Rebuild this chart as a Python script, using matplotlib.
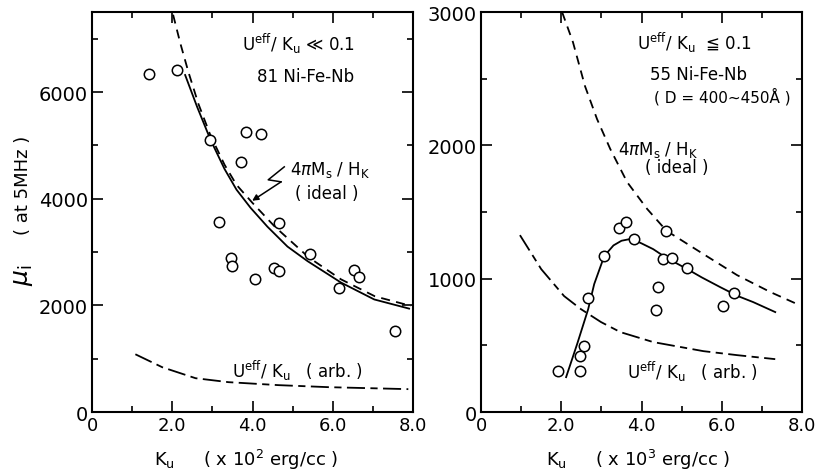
import numpy as np
import matplotlib
matplotlib.use("Agg")
import matplotlib.pyplot as plt
from matplotlib.ticker import MultipleLocator, FixedLocator

plt.rcParams["font.family"] = ["DejaVu Sans"]
plt.rcParams["mathtext.fontset"] = "dejavusans"

# ---- left panel: 81Ni-Fe-Nb (Ku in x10^2 erg/cc) ----
ku_81 = [1.43, 2.11, 2.94, 3.84, 4.2, 3.71, 3.16, 4.67, 3.47, 3.5, 4.05, 4.53, 4.65, 5.43, 6.53, 6.65, 6.15, 7.55]
mu_81 = [6340, 6420, 5110, 5250, 5215, 4680, 3570, 3550, 2897, 2747, 2495, 2710, 2650, 2972, 2660, 2540, 2318, 1514]

fit_ku_81 = [2.32, 2.62, 2.95, 3.3, 3.6, 3.95, 4.37, 4.87, 5.37, 6.2, 7.03, 7.9]
fit_mu_81 = [6320, 5720, 5110, 4560, 4170, 3830, 3476, 3103, 2830, 2430, 2112, 1940]

ideal_ku_81 = [2.02, 2.2, 2.4, 2.65, 2.95, 3.3, 3.6, 4.0, 4.55, 5.4, 6.2, 7.05, 7.95]
ideal_mu_81 = [7450, 6915, 6380, 5780, 5190, 4640, 4260, 3920, 3480, 2900, 2490, 2170, 1990]

arb_ku_81 = [1.08, 1.75, 2.58, 3.4, 4.65, 5.9, 7.88]
arb_mu_81 = [1084, 841, 635, 561, 505, 467, 430]

# ---- right panel: 55Ni-Fe-Nb (Ku in x10^3 erg/cc) ----
ku_55 = [1.92, 2.47, 2.47, 2.57, 2.67, 3.07, 3.45, 3.62, 3.82, 4.62, 4.54, 4.76, 5.14, 4.41, 4.36, 6.31, 6.03]
mu_55 = [307, 307, 420, 495, 855, 1170, 1380, 1425, 1300, 1360, 1145, 1155, 1080, 937, 768, 892, 795]

fit_ku_55 = [2.12, 2.4, 2.67, 2.82, 3.07, 3.3, 3.5, 3.75, 4.0, 4.29, 4.6, 5.14, 5.5, 5.96, 6.4, 6.78, 7.33]
fit_mu_55 = [262, 515, 772, 960, 1170, 1250, 1285, 1300, 1265, 1222, 1160, 1072, 1010, 937, 870, 825, 750]

ideal_ku_55 = [2.02, 2.29, 2.59, 2.89, 3.22, 3.64, 4.14, 4.62, 5.54, 6.38, 7.21, 7.95]
ideal_mu_55 = [3000, 2775, 2445, 2198, 1973, 1725, 1523, 1360, 1185, 1027, 900, 800]

arb_ku_55 = [0.97, 1.5, 2.07, 2.49, 2.99, 3.47, 4.29, 5.54, 6.38, 7.33]
arb_mu_55 = [1327, 1072, 870, 772, 675, 600, 525, 457, 427, 397]

# lightning-style pointer in left panel
zig_x = [4.79, 4.39, 4.71, 3.99]
zig_y = [4598, 4355, 4317, 3962]

fig = plt.figure(figsize=(8.15, 4.77), dpi=100)
ax1 = fig.add_axes([0.1129, 0.134, 0.394, 0.8386])
ax2 = fig.add_axes([0.5902, 0.134, 0.394, 0.8386])

lw = 1.3
dash_ideal = (5, 3.5)
dash_arb = (10, 3, 4, 3)

for ax in (ax1, ax2):
    for s in ax.spines.values():
        s.set_linewidth(1.5)
    ax.set_xlim(0, 8)
    ax.xaxis.set_major_locator(FixedLocator([0, 2, 4, 6, 8]))
    ax.xaxis.set_minor_locator(MultipleLocator(1))
    ax.set_xticklabels(["0", "2.0", "4.0", "6.0", "8.0"])
    ax.tick_params(which="both", direction="in", top=True, right=True, width=1.2, labelsize=14, pad=3)
    ax.tick_params(axis="x", labelsize=13)
    ax.tick_params(which="major", length=8)
    ax.tick_params(which="minor", length=4)

# left panel
ax1.set_ylim(0, 7500)
ax1.yaxis.set_major_locator(FixedLocator([0, 2000, 4000, 6000]))
ax1.yaxis.set_minor_locator(MultipleLocator(1000))
ax1.plot(fit_ku_81, fit_mu_81, color="k", lw=lw)
ax1.plot(ideal_ku_81, ideal_mu_81, color="k", lw=lw, dashes=dash_ideal)
ax1.plot(arb_ku_81, arb_mu_81, color="k", lw=lw, dashes=dash_arb)
ax1.plot(ku_81, mu_81, "o", ms=7.5, mfc="white", mec="k", mew=1.1, zorder=3)
ax1.plot(zig_x[:3], zig_y[:3], color="k", lw=1.1)
ax1.annotate("", xy=(zig_x[3], zig_y[3]), xytext=(zig_x[2], zig_y[2]),
             arrowprops=dict(arrowstyle="-|>", color="k", lw=1.1, mutation_scale=9,
                             shrinkA=0, shrinkB=0))

ax1.text(3.74, 6915, r"U$^{\rm eff}$/ K$_{\rm u}$ ≪ 0.1", fontsize=12, va="center")
ax1.text(4.11, 6300, "81 Ni-Fe-Nb", fontsize=12, va="center")
ax1.text(4.93, 4560, r"4$\pi$M$_{\rm s}$ / H$_{\rm K}$", fontsize=12, va="center")
ax1.text(5.06, 4112, "( ideal )", fontsize=12, va="center")
ax1.text(3.49, 785, r"U$^{\rm eff}$/ K$_{\rm u}$   ( arb. )", fontsize=12, va="center")

ax1.text(-0.215, 0.345, r"$\mu_{\rm i}$", transform=ax1.transAxes, fontsize=18,
         rotation=90, ha="center", va="center")
ax1.text(-0.215, 0.57, "( at 5MHz )", transform=ax1.transAxes, fontsize=13,
         rotation=90, ha="center", va="center")
ax1.text(0.48, -0.1175, r"K$_{\rm u}$     ( x 10$^{2}$ erg/cc )", transform=ax1.transAxes,
         fontsize=13, ha="center", va="center")

# right panel
ax2.set_ylim(0, 3000)
ax2.yaxis.set_major_locator(FixedLocator([0, 1000, 2000, 3000]))
ax2.yaxis.set_minor_locator(MultipleLocator(500))
ax2.plot(fit_ku_55, fit_mu_55, color="k", lw=lw)
ax2.plot(ideal_ku_55, ideal_mu_55, color="k", lw=lw, dashes=dash_ideal)
ax2.plot(arb_ku_55, arb_mu_55, color="k", lw=lw, dashes=dash_arb)
ax2.plot(ku_55, mu_55, "o", ms=7.5, mfc="white", mec="k", mew=1.1, zorder=3)

ax2.text(3.89, 2775, r"U$^{\rm eff}$/ K$_{\rm u}$  ≦ 0.1", fontsize=12, va="center")
ax2.text(4.21, 2535, "55 Ni-Fe-Nb", fontsize=12, va="center")
ax2.text(4.3, 2370, "( D = 400~450Å )", fontsize=11, va="center")
ax2.text(3.42, 1972, r"4$\pi$M$_{\rm s}$ / H$_{\rm K}$", fontsize=12, va="center")
ax2.text(4.09, 1837, "( ideal )", fontsize=12, va="center")
ax2.text(3.64, 307, r"U$^{\rm eff}$/ K$_{\rm u}$   ( arb. )", fontsize=12, va="center")

ax2.text(0.49, -0.1175, r"K$_{\rm u}$     ( x 10$^{3}$ erg/cc )", transform=ax2.transAxes,
         fontsize=13, ha="center", va="center")

fig.savefig("out.png", dpi=100)
